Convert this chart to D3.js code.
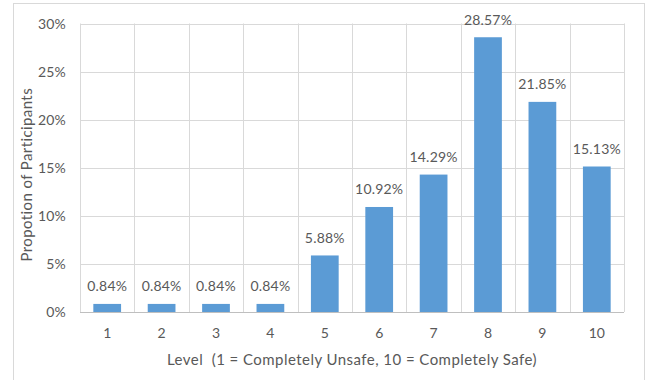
<!DOCTYPE html>
<html><head><meta charset="utf-8">
<script src="https://cdn.jsdelivr.net/npm/d3@7"></script>
<style>body{margin:0;background:#fff}svg{display:block}text{font-family:Lato,"Open Sans",sans-serif;fill:#595959}</style>
</head><body><svg id="c" width="648" height="380"></svg>
<script>
const categories = ["1","2","3","4","5","6","7","8","9","10"];
const values = [0.84,0.84,0.84,0.84,5.88,10.92,14.29,28.57,21.85,15.13];
const yTicks = [0,5,10,15,20,25,30];
const yTitle = "Propotion of Participants";
const xTitle = "Level  (1 = Completely Unsafe, 10 = Completely Safe)";

const svg = d3.select("#c");
const m = {l:80, r:624, t:23.5, b:312};
svg.append("rect").attr("x",13.5).attr("y",3.5).attr("width",631).attr("height",390)
  .attr("fill","none").attr("stroke","#D9D9D9");
const x = d3.scaleBand().domain(categories).range([m.l,m.r]).paddingInner(0).paddingOuter(0);
const y = d3.scaleLinear().domain([0,30]).range([m.b,m.t]);
const g = svg.append("g");
g.selectAll(".hg").data(yTicks).join("line")
  .attr("x1",m.l).attr("x2",m.r).attr("y1",d=>Math.round(y(d))+0.5).attr("y2",d=>Math.round(y(d))+0.5)
  .attr("stroke","#D9D9D9");
const bounds = categories.map(c=>x(c)).concat([m.r]);
g.selectAll(".vg").data(bounds).join("line")
  .attr("x1",d=>Math.round(d)+0.5).attr("x2",d=>Math.round(d)+0.5).attr("y1",m.t).attr("y2",m.b)
  .attr("stroke","#D9D9D9");
const bw = x.bandwidth()*0.51;
g.selectAll(".bar").data(values).join("rect")
  .attr("x",(d,i)=>x(categories[i])+(x.bandwidth()-bw)/2)
  .attr("width",bw)
  .attr("y",d=>y(d)).attr("height",d=>y(0)-y(d))
  .attr("fill","#5B9BD5");
g.append("line").attr("x1",m.l).attr("x2",m.r).attr("y1",Math.round(y(0))+0.5).attr("y2",Math.round(y(0))+0.5).attr("stroke","#BFBFBF");
g.selectAll(".vl").data(values).join("text")
  .attr("x",(d,i)=>x(categories[i])+x.bandwidth()/2)
  .attr("y",d=>y(d)-12.5)
  .attr("text-anchor","middle").attr("font-size",14).attr("letter-spacing","0.2px")
  .text(d=>d.toFixed(2)+"%");
g.selectAll(".yt").data(yTicks).join("text")
  .attr("x",66).attr("y",d=>y(d)+5).attr("text-anchor","end").attr("font-size",14).attr("letter-spacing","0.2px")
  .text(d=>d+"%");
g.selectAll(".xt").data(categories).join("text")
  .attr("x",d=>x(d)+x.bandwidth()/2).attr("y",338).attr("text-anchor","middle").attr("font-size",14)
  .text(d=>d);
svg.append("text").attr("x",(m.l+m.r)/2).attr("y",365).attr("text-anchor","middle").attr("font-size",15)
  .attr("letter-spacing","0.45px").style("white-space","pre").text(xTitle);
svg.append("text").attr("transform",`translate(32,${(m.t+m.b)/2+7}) rotate(-90)`).attr("text-anchor","middle").attr("font-size",15).attr("letter-spacing","0.4px").text(yTitle);
</script></body></html>
